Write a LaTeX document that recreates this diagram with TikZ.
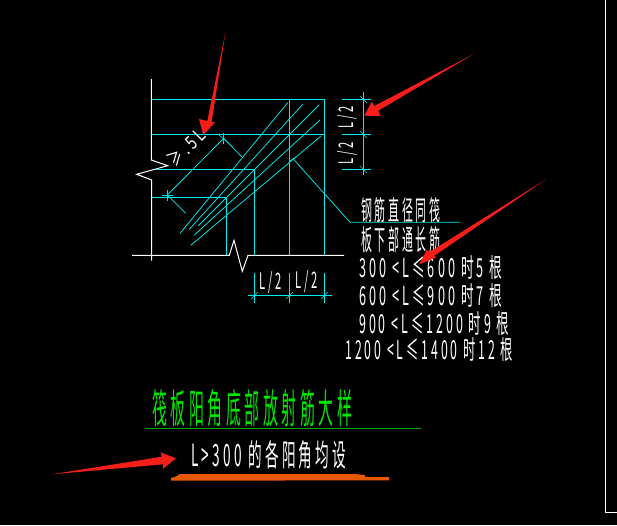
\documentclass[tikz,border=0pt]{standalone}
\usepackage{xcolor}
\usepackage{fontspec}
\usepackage{tikz}
\setmainfont{Noto Sans CJK SC}[LetterSpace=24]
\newlength{\cadpx}
\setlength{\cadpx}{0.75pt}
\newcommand{\cadtext}[3]{\resizebox{#1\cadpx}{#2\cadpx}{#3}}
\tikzset{
  cyanline/.style={color={rgb, 255:red, 0; green, 240; blue, 240 },line width=0.75pt},
  barline/.style={color={rgb, 255:red, 0; green, 225; blue, 225 },line width=0.6pt},
  thinline/.style={color={rgb, 255:red, 0; green, 225; blue, 225 },line width=0.45pt},
  whiteline/.style={color=white,line width=0.75pt},
  redarrow/.style={fill={rgb, 255:red, 245; green, 30; blue, 25 }},
  cadlabel/.style={anchor=north west,inner sep=0pt,text=white}
}
\begin{document}
\begin{tikzpicture}[x=0.75pt,y=0.75pt,yscale=-1,xscale=1]
\useasboundingbox (0,0) rectangle (617,525);
\fill [black] (0,0) rectangle (617,525);

%Shape: frame at the right
\draw [whiteline] (605.5,0) -- (605.5,512) -- (617,512);

%Shape: grid
\draw [cyanline] (151.3,99.3) -- (324.3,99.3) -- (324.3,255.3);
\draw [cyanline] (289.3,99.3) -- (289.3,255.3);
\draw [cyanline] (151.3,134.3) -- (324.3,134.3);
\draw [cyanline] (156,169.3) -- (254.3,169.3) -- (254.3,255.3);
\draw [cyanline] (151.3,197.3) -- (226.3,197.3) -- (226.3,255.3);

%Shape: diagonal bars
\draw [barline] (287.7,102.7) -- (180,233.3);
\draw [barline] (302.7,104.3) -- (189.3,229.3);
\draw [barline] (319,105) -- (198.3,225.7);
\draw [barline] (320,120) -- (194,235.3);
\draw [barline] (321,136) -- (190.7,245.3);

%Shape: oblique dimension
\draw [barline] (167.3,195) -- (223.7,138.3);
\draw [barline] (223.7,138.3) -- (241.7,156.7);
\draw [barline] (167.3,195) -- (185.7,213.3);
\draw [thinline] (223.7,133) -- (223.7,143.5);
\draw [thinline] (218.5,134.5) -- (229,143.5);
\draw [thinline] (167.3,190) -- (167.3,200.5);
\draw [thinline] (162,195) -- (172.5,195);

%Shape: leader
\draw [barline] (293.3,159) -- (350,222.3) -- (460,222.3);
\draw [thinline] (289.5,161) -- (296,157);

%Shape: white outline with break marks
\draw [whiteline] (151.3,79) -- (151.3,160) -- (167.7,165.7) -- (136.7,174.3) -- (151.7,180) -- (151.7,260.7);
\draw [whiteline] (132,255.3) -- (229.3,255.3) -- (234,240.3) -- (242.3,271.3) -- (248,255.3) -- (344,255.3);

%Shape: dimension at the right
\draw [cyanline] (363.7,92.3) -- (363.7,175.3);
\draw [cyanline] (342,99.3) -- (370.7,99.3);
\draw [cyanline] (342,134.3) -- (370.7,134.3);
\draw [cyanline] (342,169.3) -- (370.7,169.3);
\draw [thinline] (360,96) -- (367,103);
\draw [thinline] (360,131) -- (367,138);
\draw [thinline] (360,166) -- (367,173);

%Shape: dimension at the bottom
\draw [cyanline] (248.3,295.3) -- (331.7,295.3);
\draw [cyanline] (254.3,273.3) -- (254.3,302.7);
\draw [cyanline] (289.3,273.3) -- (289.3,302.7);
\draw [cyanline] (324.3,273.3) -- (324.3,302.7);
\draw [thinline] (251,299) -- (258,292);
\draw [thinline] (286,299) -- (293,292);
\draw [thinline] (321,299) -- (328,292);

% Text Node
\node (lefthalf) [cadlabel] at (259,271) {\cadtext{22}{18}{L/2}};
% Text Node
\node (righthalf) [cadlabel] at (295,270) {\cadtext{22}{18}{L/2}};
% Text Node
\node (tophalf) [inner sep=0pt,text=white,rotate=90] at (347,117) {\cadtext{22}{16}{L/2}};
% Text Node
\node (lowerhalf) [inner sep=0pt,text=white,rotate=90] at (347,153) {\cadtext{22}{16}{L/2}};
% Text Node
\node (lapmark) [inner sep=0pt,text=white,rotate=45] at (186,147) {\cadtext{44}{15}{≥.5L}};

% Text Node
\node (sametext) [cadlabel] at (361,197) {\cadtext{79}{23}{钢筋直径同筏}};
% Text Node
\node (bottomtext) [cadlabel] at (361,226) {\cadtext{79}{24}{板下部通长筋}};
% Text Node
\node (rowfive) [cadlabel] at (359,255) {\cadtext{143}{22}{300 <L≤600 时5 根}};
% Text Node
\node (rowseven) [cadlabel] at (359,283) {\cadtext{143}{22}{600 <L≤900 时7 根}};
% Text Node
\node (rownine) [cadlabel] at (359,311) {\cadtext{150}{22}{900 <L≤1200 时9 根}};
% Text Node
\node (rowtwelve) [cadlabel] at (345,337) {\cadtext{168}{22}{1200 <L≤1400 时12 根}};

% Text Node
\node (titletext) [cadlabel,text={rgb, 255:red, 0; green, 230; blue, 0 }] at (152,389) {\cadtext{200}{34}{筏板阳角底部放射筋大样}};
\draw [color={rgb, 255:red, 0; green, 170; blue, 0 },line width=0.75pt] (145,428.3) -- (420.7,428.3);
% Text Node
\node (cornertext) [cadlabel] at (191,440) {\cadtext{155}{26}{L>300 的各阳角均设}};

%Shape: orange underline
\fill [fill={rgb, 255:red, 232; green, 88; blue, 0 }] (171,480.7) -- (171,478) -- (176,476.5) -- (180,474) -- (355,474) -- (365,475) -- (365,477) -- (389,477) -- (389,480.3) -- cycle;

%Shape: red arrows
\fill [redarrow] (225.5,32) -- (211.7,121.7) -- (215,122.3) -- (203.3,135) -- (199,119) -- (207.3,121) -- cycle;
\fill [redarrow] (473.3,54.3) -- (378.3,110.7) -- (380.7,116) -- (364.3,115.7) -- (371.7,101.7) -- (374.3,106) -- cycle;
\fill [redarrow] (546,179.3) -- (434,256) -- (436.7,257.3) -- (419.3,264.3) -- (426.7,250) -- (430,251.7) -- cycle;
\fill [redarrow] (51.7,474.3) -- (163.3,464.3) -- (162.7,469) -- (176,458.3) -- (160.7,452.3) -- (161.7,456.7) -- cycle;
\end{tikzpicture}
\end{document}
